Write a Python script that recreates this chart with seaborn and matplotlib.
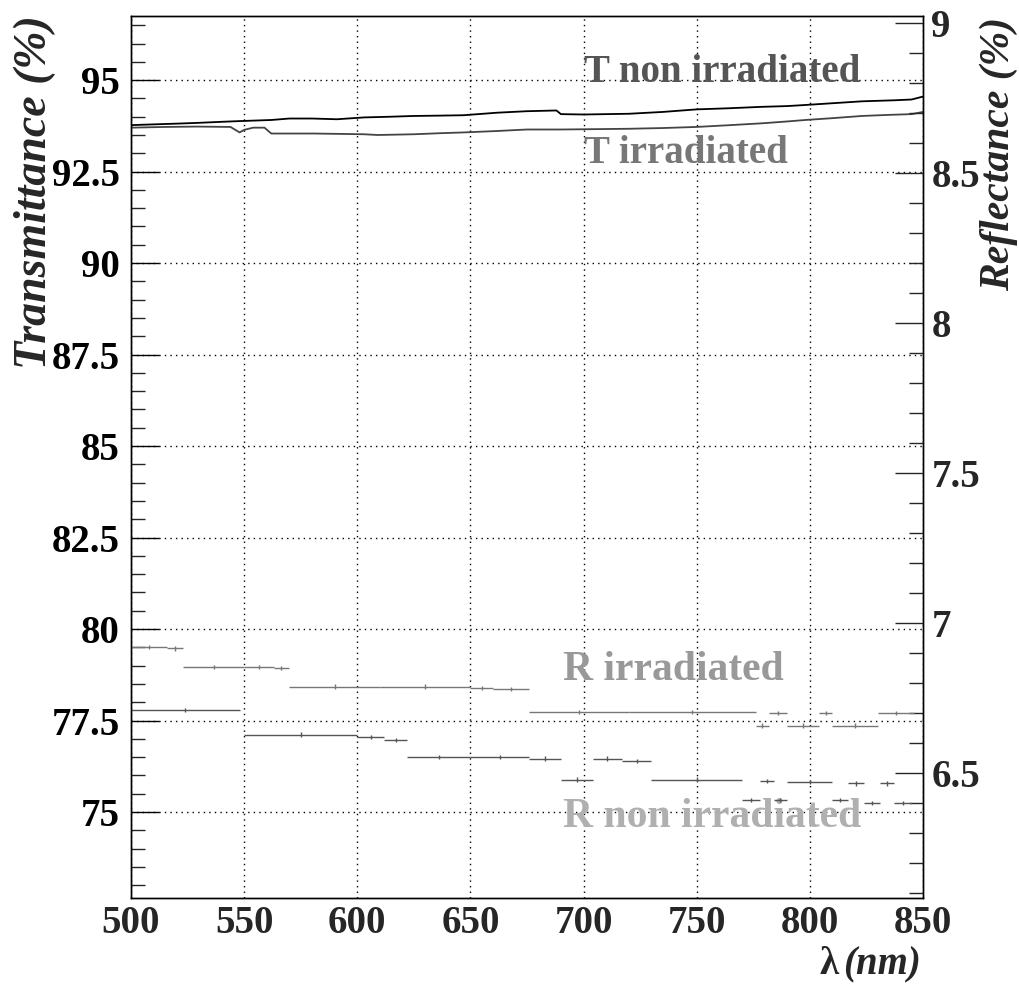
import numpy as np
import pandas as pd
import matplotlib
matplotlib.use("Agg")
import matplotlib.pyplot as plt
import seaborn as sns
from matplotlib.ticker import MultipleLocator, FixedLocator, NullLocator

# ---------------- data ----------------
wl_T_non = [500, 510, 520, 529, 540, 548, 562, 570, 580, 591, 603, 615, 625, 637, 647, 662,
            675, 688, 690, 700, 710, 720, 735, 750, 764, 779, 790, 798, 808, 823, 838, 845, 850]
T_non = [93.77, 93.79, 93.81, 93.83, 93.86, 93.88, 93.91, 93.95, 93.95, 93.93, 93.98, 94.00,
         94.02, 94.03, 94.04, 94.11, 94.15, 94.17, 94.07, 94.06, 94.07, 94.08, 94.13, 94.20,
         94.23, 94.27, 94.29, 94.32, 94.36, 94.42, 94.45, 94.47, 94.55]

wl_T_irr = [500, 515, 529, 544, 548, 550, 554, 559, 562, 570, 581, 592, 603, 609, 625, 637,
            647, 662, 675, 690, 705, 720, 735, 750, 765, 779, 790, 798, 810, 823, 835, 845, 850]
T_irr = [93.70, 93.72, 93.73, 93.72, 93.57, 93.64, 93.70, 93.70, 93.54, 93.54, 93.54, 93.53,
         93.52, 93.50, 93.52, 93.55, 93.57, 93.61, 93.65, 93.65, 93.66, 93.67, 93.69, 93.72,
         93.77, 93.82, 93.87, 93.91, 93.96, 94.02, 94.05, 94.07, 94.13]

# Reflectance histograms (bin edges low/high, value)
R_irr_lo = [500, 516, 523, 550, 563, 570, 610, 650, 660, 676, 720, 776, 782, 790, 804, 810, 830]
R_irr_hi = [516, 523, 550, 563, 570, 610, 650, 660, 676, 720, 776, 782, 790, 804, 810, 830, 846]
R_irr = [6.920, 6.915, 6.853, 6.853, 6.850, 6.787, 6.787, 6.783, 6.780, 6.703, 6.703, 6.657,
         6.700, 6.657, 6.700, 6.657, 6.700]

R_non_lo = [500, 550, 600, 612, 622, 650, 676, 690, 704, 717, 730, 770, 778, 784, 790, 810, 817, 824, 831, 837]
R_non_hi = [548, 600, 612, 622, 650, 676, 690, 704, 717, 730, 770, 778, 784, 790, 810, 817, 824, 831, 837, 845]
R_non = [6.710, 6.627, 6.620, 6.610, 6.553, 6.553, 6.547, 6.477, 6.547, 6.540, 6.477, 6.410,
         6.473, 6.410, 6.470, 6.410, 6.465, 6.400, 6.465, 6.400]
R_err = 0.008

x_ticks = [500, 550, 600, 650, 700, 750, 800, 850]
T_ticks = [75, 77.5, 80, 82.5, 85, 87.5, 90, 92.5, 95]
T_ticklabels = ["75", "77.5", "80", "82.5", "85", "87.5", "90", "92.5", "95"]
R_ticks = [6.5, 7, 7.5, 8, 8.5, 9]
R_ticklabels = ["6.5", "7", "7.5", "8", "8.5", "9"]

# ---------------- style ----------------
sns.set_theme(style="white")
plt.rcParams["font.family"] = ["Liberation Serif", "DejaVu Serif"]
plt.rcParams["font.weight"] = "bold"

fig = plt.figure(figsize=(10.2, 9.85), dpi=100)
ax = fig.add_axes([0.1284, 0.0883, 0.7765, 0.8954])
ax2 = ax.twinx()

df_non = pd.DataFrame({"wl": wl_T_non, "T": T_non})
df_irr = pd.DataFrame({"wl": wl_T_irr, "T": T_irr})
sns.lineplot(data=df_non, x="wl", y="T", ax=ax, color="black", lw=1.3, estimator=None, sort=False)
sns.lineplot(data=df_irr, x="wl", y="T", ax=ax, color="#444444", lw=1.3, estimator=None, sort=False)

def draw_hist(axis, lo, hi, vals, color):
    lo = np.asarray(lo, float); hi = np.asarray(hi, float)
    c = (lo + hi) / 2.0
    axis.errorbar(c, vals, xerr=(hi - lo) / 2.0, yerr=R_err, fmt="none",
                  ecolor=color, elinewidth=1.0, capsize=0)

draw_hist(ax2, R_irr_lo, R_irr_hi, R_irr, "#777777")
draw_hist(ax2, R_non_lo, R_non_hi, R_non, "#555555")

ax.set_xlim(500, 850)
ax.set_ylim(72.65, 96.75)
ax2.set_ylim(6.083, 9.023)

ax.xaxis.set_major_locator(FixedLocator(x_ticks))
ax.xaxis.set_minor_locator(NullLocator())
ax.set_xticklabels([str(v) for v in x_ticks])
ax.yaxis.set_major_locator(FixedLocator(T_ticks))
ax.yaxis.set_minor_locator(MultipleLocator(0.5))
ax.set_yticklabels(T_ticklabels)
ax2.yaxis.set_major_locator(FixedLocator(R_ticks))
ax2.yaxis.set_minor_locator(MultipleLocator(0.1))
ax2.set_yticklabels(R_ticklabels)

ax.grid(True, which="major", linestyle=(0, (1, 3)), color="black", lw=1.0)
ax2.grid(False)

ax.tick_params(axis="y", which="major", direction="in", length=20, width=1,
               labelsize=28, pad=8, colors="black", left=True, right=False)
ax.tick_params(axis="y", which="minor", direction="in", length=10, width=1, left=True, right=False)
ax.tick_params(axis="x", which="major", direction="in", length=0, width=1,
               labelsize=28, pad=5, bottom=True, top=False)
ax2.tick_params(axis="y", which="major", direction="in", length=20, width=1,
                labelsize=28, pad=6, right=True)
ax2.tick_params(axis="y", which="minor", direction="in", length=10, width=1, right=True)

for a in (ax, ax2):
    for s in a.spines.values():
        s.set_color("black"); s.set_linewidth(1.0); s.set_visible(True)
ax.set_xlabel(""); ax.set_ylabel("")

ax.text(700, 95.2, "T non irradiated", color="#555555", fontsize=28,
        fontweight="bold", va="center", ha="left")
ax.text(700, 93.0, "T irradiated", color="#777777", fontsize=28,
        fontweight="bold", va="center", ha="left")
ax.text(691, 78.88, "R irradiated", color="#999999", fontsize=30,
        fontweight="bold", va="center", ha="left")
ax.text(691, 74.86, "R non irradiated", color="#b0b0b0", fontsize=30,
        fontweight="bold", va="center", ha="left")

fig.text(0.034, 0.985, "Transmittance (%)", rotation=90, ha="center", va="top",
         fontsize=33, fontstyle="italic", fontweight="bold")
fig.text(0.979, 0.983, "Reflectance (%)", rotation=90, ha="center", va="top",
         fontsize=30, fontstyle="italic", fontweight="bold")
fig.text(0.903, 0.002, "(nm)", ha="right", va="bottom", fontsize=28,
         fontstyle="italic", fontweight="bold")
fig.text(0.822, 0.002, "λ", ha="right", va="bottom", fontsize=28)

fig.savefig("out.png", dpi=100)
